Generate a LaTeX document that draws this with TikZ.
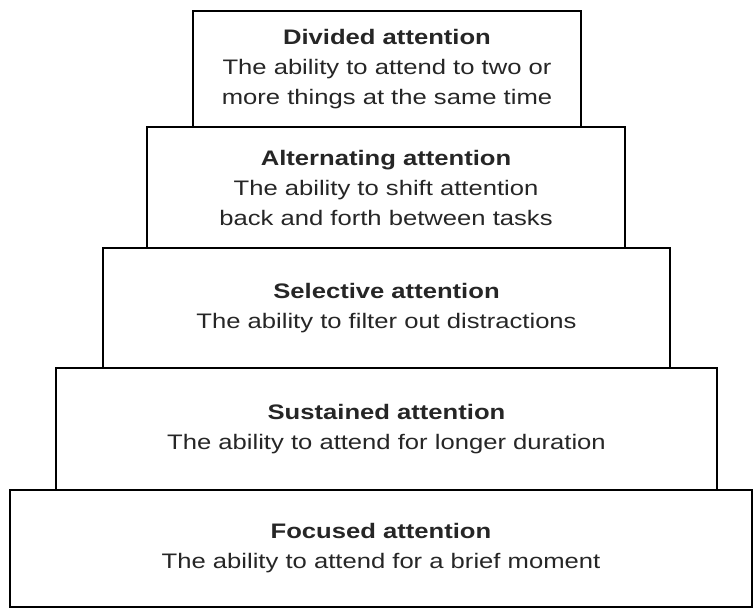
\documentclass[tikz,border=0pt]{standalone}
\usepackage{fontspec}
\setmainfont{Liberation Sans}[FakeStretch=1.22]
\begin{document}
\begin{tikzpicture}[x=1pt,y=-1pt,
  level/.style={draw=black, line width=1.6pt, fill=white, inner sep=0pt, align=center,
    font=\fontsize{21}{30}\selectfont, text=black!85},
]
\useasboundingbox (0,0) rectangle (753,610);
\node[level, minimum width=388, minimum height=116] (divided) at (387,69)
  {\textbf{Divided attention}\\The ability to attend to two or\\more things at the same time};
\node[level, minimum width=478, minimum height=121] (alternating) at (386,187.5)
  {\textbf{Alternating attention}\\The ability to shift attention\\back and forth between tasks};
\node[level, minimum width=567, minimum height=120] (selective) at (386.5,308)
  {\textbf{Selective attention}\\The ability to filter out distractions};
\node[level, minimum width=661, minimum height=122] (sustained) at (386.5,429)
  {\textbf{Sustained attention}\\The ability to attend for longer duration};
\node[level, minimum width=742, minimum height=117] (focused) at (381,548.5)
  {\textbf{Focused attention}\\The ability to attend for a brief moment};
\end{tikzpicture}
\end{document}
